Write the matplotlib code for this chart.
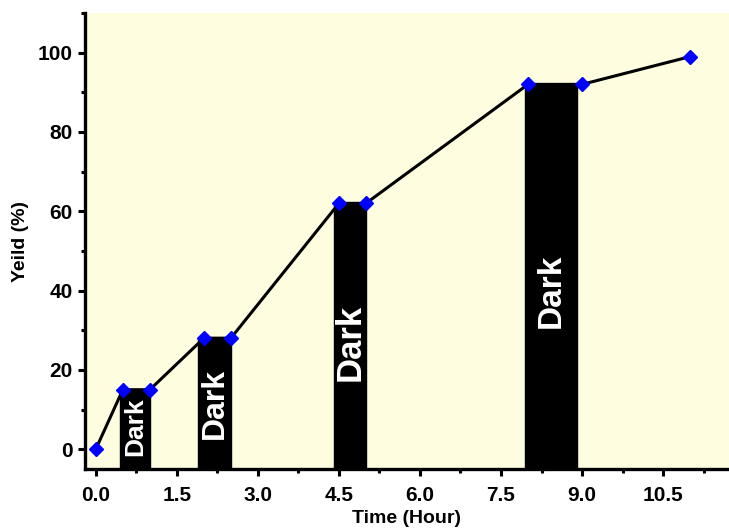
import matplotlib
matplotlib.use("Agg")
import matplotlib.pyplot as plt
from matplotlib.ticker import MultipleLocator

plt.rcParams['font.family'] = ['Liberation Sans', 'DejaVu Sans']

# Yield over time
time_h = [0, 0.5, 1.0, 2.0, 2.5, 4.5, 5.0, 8.0, 9.0, 11.0]
yield_pct = [0, 15, 15, 28, 28, 62, 62, 92, 92, 99]

# Dark periods (start, end, height)
dark_start = [0.45, 1.9, 4.4, 7.95]
dark_end = [1.0, 2.5, 5.0, 8.9]
dark_top = [15, 28, 62, 92]
dark_label_y = [5.6, 11.6, 27, 40]
dark_label_size = [19, 23, 25, 24]

x_ticks = [0.0, 1.5, 3.0, 4.5, 6.0, 7.5, 9.0, 10.5]
y_ticks = [0, 20, 40, 60, 80, 100]

fig = plt.figure(figsize=(7.29, 5.32), dpi=100)
ax = fig.add_axes([85 / 729, 63 / 532, 1 - 85 / 729, (469 - 13) / 532])
ax.set_facecolor('#FEFDE0')

y_floor = -10
for s, e, t, ly, fs in zip(dark_start, dark_end, dark_top, dark_label_y, dark_label_size):
    ax.bar(s, t - y_floor, width=e - s, bottom=y_floor, align='edge',
           color='black', edgecolor='black', zorder=2)
    ax.text((s + e) / 2, ly, 'Dark', rotation=90, color='white',
            fontsize=fs, fontweight='bold', ha='center', va='center', zorder=3)

ax.plot(time_h, yield_pct, color='black', lw=2.2, zorder=4,
        marker='D', markersize=7.5, markerfacecolor='#0000FF',
        markeredgecolor='#0000FF')

ax.set_xlim(-0.2, 11.72)
ax.set_ylim(-5, 110)

ax.set_xticks(x_ticks)
ax.set_xticklabels([f'{v:.1f}' for v in x_ticks])
ax.set_yticks(y_ticks)
ax.xaxis.set_minor_locator(MultipleLocator(0.75))
ax.yaxis.set_minor_locator(MultipleLocator(10))

for side in ('top', 'right'):
    ax.spines[side].set_visible(False)
for side in ('left', 'bottom'):
    ax.spines[side].set_linewidth(2.4)
    ax.spines[side].set_zorder(5)

ax.tick_params(which='major', direction='out', length=5, width=2.2,
               labelsize=15, pad=4)
ax.tick_params(axis='x', which='major', pad=7)
ax.tick_params(which='minor', direction='out', length=3, width=2.2)
for lab in ax.get_xticklabels() + ax.get_yticklabels():
    lab.set_fontweight('bold')

ax.set_xlabel('Time (Hour)', fontsize=14, fontweight='bold', labelpad=4)
ax.set_ylabel('Yeild (%)', fontsize=14, fontweight='bold', labelpad=6)

fig.savefig('out.png', dpi=100)
